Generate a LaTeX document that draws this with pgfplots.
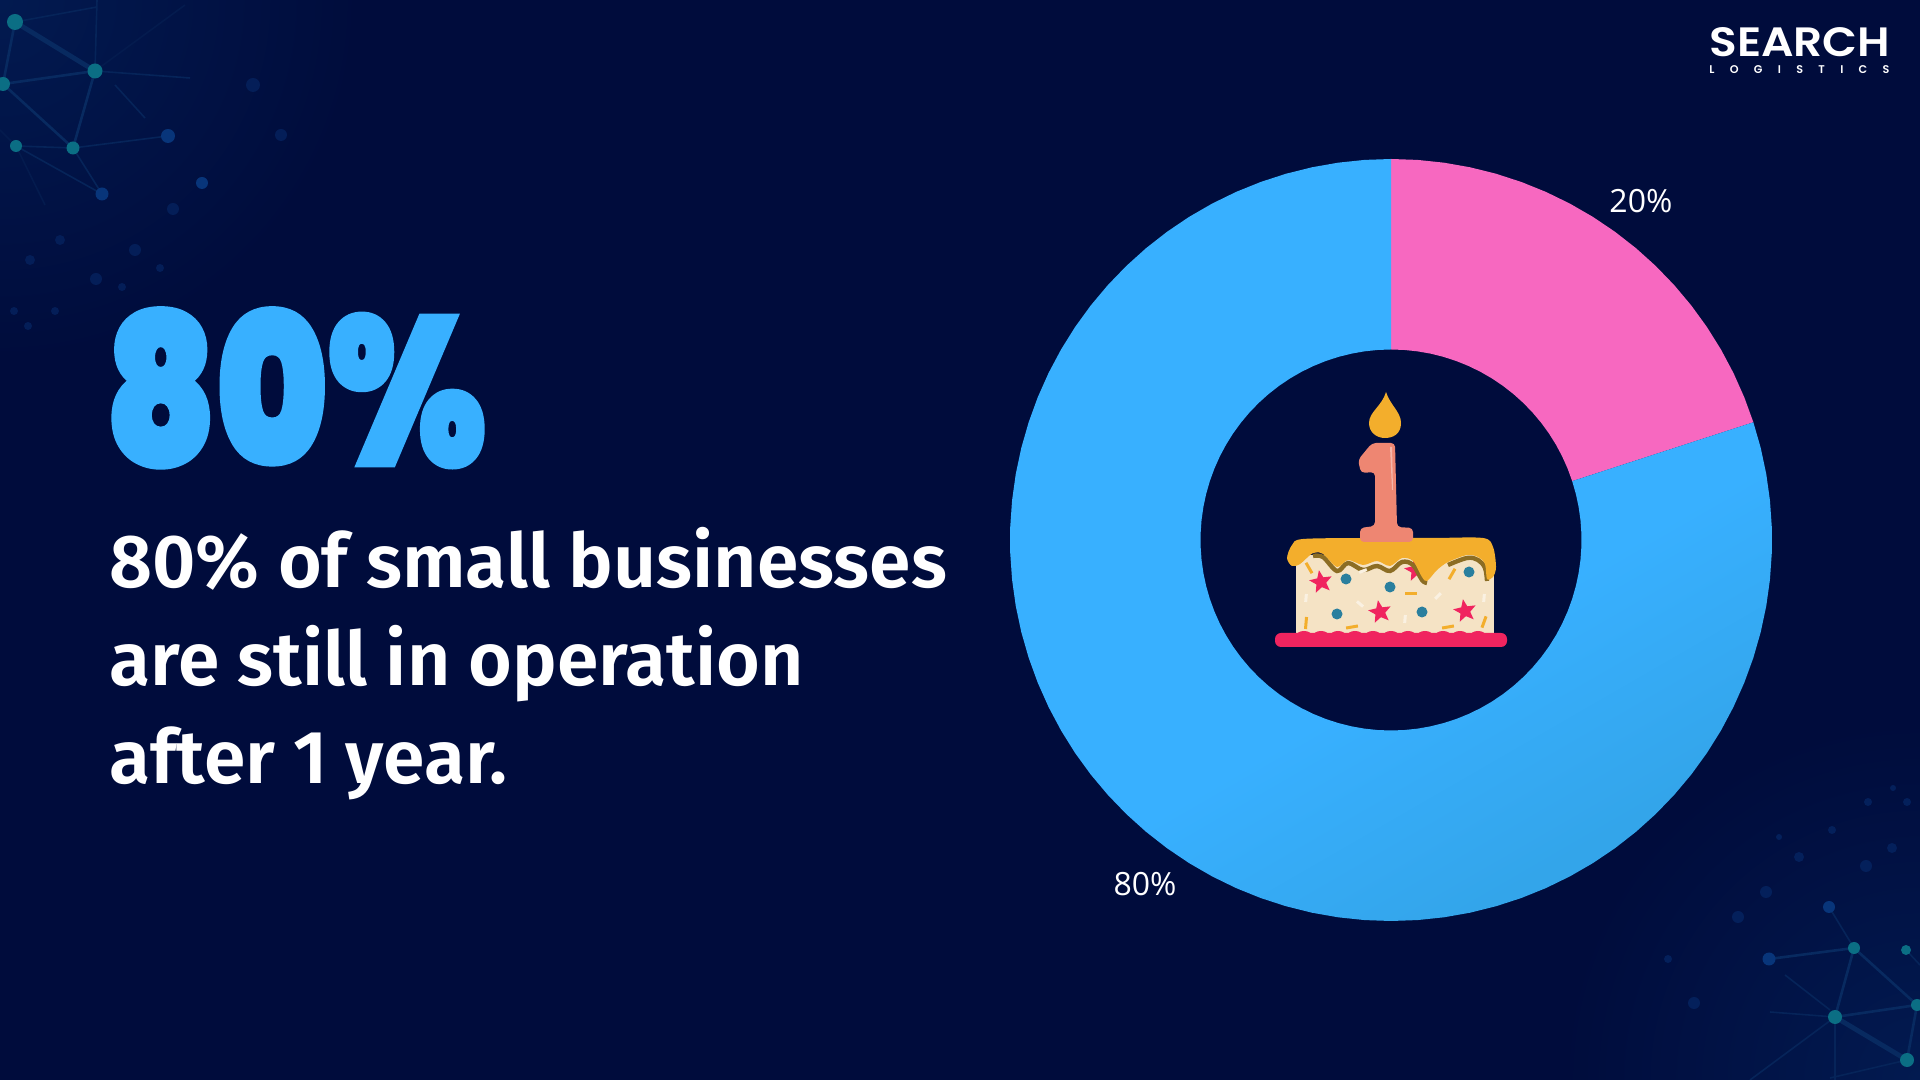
\documentclass[border=0pt]{standalone}
\usepackage{graphicx}
\usepackage{fontspec}
\usepackage{pgfplots}
\pgfplotsset{compat=1.18}
\usepgfplotslibrary{polar}
\usetikzlibrary{shapes.geometric}
\setmainfont{Open Sans}
\newfontfamily\plex{Fira Sans SemiBold}
\newfontfamily\heavy{Poppins Black}[FakeBold=2.5]
\newfontfamily\logo{Poppins SemiBold}

\definecolor{bg}{HTML}{000C3C}
\definecolor{bgglow}{HTML}{021A50}
\definecolor{donutblue}{HTML}{38B0FF}
\definecolor{donutdark}{HTML}{33A5EA}
\definecolor{donutpink}{HTML}{F768C0}
\definecolor{teal}{HTML}{0B6E84}
\definecolor{netblue}{HTML}{08357A}
\definecolor{netline}{HTML}{082A60}
\definecolor{icing}{HTML}{F3AE2C}
\definecolor{crumb}{HTML}{F5E3C5}
\definecolor{candle}{HTML}{EE8672}
\definecolor{berry}{HTML}{F0245F}
\definecolor{dotblue}{HTML}{2A7F9E}
\definecolor{choc}{HTML}{8C6D24}

\pgfdeclareverticalshading{donutshade}{100bp}{
  color(0bp)=(donutdark); color(26bp)=(donutdark); color(42bp)=(donutblue); color(100bp)=(donutblue)}

\tikzset{px/.style={x=0.5pt,y=-0.5pt,yshift=540pt}}

\begin{document}
\begin{tikzpicture}
\path[use as bounding box] (0,0) rectangle (960pt,540pt);
\clip (0,0) rectangle (960pt,540pt);

\begin{scope}[px]
\fill[bg] (0,0) rectangle (1920,1080);
\shade[inner color=bgglow,outer color=bg] (0,0) circle (360);
\shade[inner color=bgglow,outer color=bg] (1920,1080) circle (360);

% network, top left
\draw[netline,line width=2.4] (15,22) -- (95,71);
\draw[netline,line width=1.3] (15,22) -- (3,84) -- (95,71) -- (73,148) -- (3,84);
\draw[netline!80!bg,line width=.8] (16,146) -- (73,148) -- (168,136) (73,148) -- (102,194) -- (16,146)
  (95,71) -- (97,0) (15,22) -- (97,7) (95,71) -- (190,78) (115,85) -- (145,118);
\draw[netline!50!bg,line width=.8] (95,71) -- (185,5) (16,146) -- (45,205) (0,130) -- (16,146);
\foreach \x/\y/\r in {15/22/8,95/71/7.5,3/84/7,16/146/6,73/148/6.5}
  \fill[teal] (\x,\y) circle (\r);
\foreach \x/\y/\r in {168/136/7,102/194/6.5,202/183/6}
  \fill[netblue] (\x,\y) circle (\r);
\foreach \x/\y/\r in {253/85/7,281/135/6,173/209/6,60/240/5,30/260/5,135/250/6,96/279/6,14/311/4,55/311/4,28/326/4,160/268/4,122/287/4}
  \fill[netblue!45!bg] (\x,\y) circle (\r);

% network, bottom right
\draw[netline,line width=2.4] (1835,1017) -- (1907,1060);
\draw[netline,line width=1.3] (1907,1060) -- (1917,1005) -- (1835,1017) -- (1854,948) -- (1769,959)
  (1854,948) -- (1917,1005);
\draw[netline!80!bg,line width=.8] (1906,950) -- (1920,965) (1829,907) -- (1854,948) (1835,1017) -- (1835,1080)
  (1835,1017) -- (1750,1080) (1835,1017) -- (1770,1012) (1785,975) -- (1830,1010) (1907,1060) -- (1830,1078);
\foreach \x/\y/\r in {1835/1017/7,1907/1060/7,1917/1005/6,1854/948/6,1906/950/5}
  \fill[teal] (\x,\y) circle (\r);
\foreach \x/\y/\r in {1769/959/6.5,1829/907/6}
  \fill[netblue] (\x,\y) circle (\r);
\foreach \x/\y/\r in {1738/917/6,1766/892/6,1799/857/5,1866/866/6,1892/848/5,1694/1003/6,1668/959/4,1832/830/4,1779/837/3,1868/802/4,1907/802/4,1893/788/3}
  \fill[netblue!50!bg] (\x,\y) circle (\r);

% headline
\node[anchor=south west,inner sep=0pt,text=donutblue] at (105,467.5)
  {\resizebox{190.3pt}{78pt}{\heavy 80\%}};
\node[anchor=base west,inner sep=0pt,text=white] at (109,588) {\plex\fontsize{37.5}{46}\selectfont 80\% of small businesses};
\node[anchor=base west,inner sep=0pt,text=white] at (109,686) {\plex\fontsize{37.5}{46}\selectfont are still in operation};
\node[anchor=base west,inner sep=0pt,text=white] at (109,784) {\plex\fontsize{37.5}{46}\selectfont after 1 year.};

% logo
\node[anchor=south west,inner sep=0pt,text=white] at (1709,57)
  {\resizebox{90.5pt}{14.5pt}{\logo SEARCH}};
\node[anchor=south west,inner sep=0pt,text=white] at (1709,74)
  {\makebox[90pt][s]{\logo\fontsize{5.6}{6}\selectfont L\hfil O\hfil G\hfil I\hfil S\hfil T\hfil I\hfil C\hfil S}};
\end{scope}

\begin{polaraxis}[
    at={(695.5pt,270pt)},
    anchor=center,
    scale only axis,
    width=381pt,
    height=381pt,
    hide axis,
    clip=false,
    xmin=0, xmax=360,
    ymin=0, ymax=1,
]
% 20% slice, angle in degrees, radius
\addplot[fill=donutpink,draw=none] coordinates {
    (18,1) (22,1) (26,1) (30,1) (34,1) (38,1) (42,1) (46,1) (50,1) (54,1)
    (58,1) (62,1) (66,1) (70,1) (74,1) (78,1) (82,1) (86,1) (90,1)
    (90,0.5) (86,0.5) (82,0.5) (78,0.5) (74,0.5) (70,0.5) (66,0.5) (62,0.5) (58,0.5) (54,0.5)
    (50,0.5) (46,0.5) (42,0.5) (38,0.5) (34,0.5) (30,0.5) (26,0.5) (22,0.5) (18,0.5)
};
% 80% slice
\addplot[shade,shading=donutshade,shading angle=30,draw=none] coordinates {
    (90,1) (94,1) (98,1) (102,1) (106,1) (110,1) (114,1) (118,1) (122,1) (126,1)
    (130,1) (134,1) (138,1) (142,1) (146,1) (150,1) (154,1) (158,1) (162,1) (166,1)
    (170,1) (174,1) (178,1) (182,1) (186,1) (190,1) (194,1) (198,1) (202,1) (206,1)
    (210,1) (214,1) (218,1) (222,1) (226,1) (230,1) (234,1) (238,1) (242,1) (246,1)
    (250,1) (254,1) (258,1) (262,1) (266,1) (270,1) (274,1) (278,1) (282,1) (286,1)
    (290,1) (294,1) (298,1) (302,1) (306,1) (310,1) (314,1) (318,1) (322,1) (326,1)
    (330,1) (334,1) (338,1) (342,1) (346,1) (350,1) (354,1) (358,1) (362,1) (366,1)
    (370,1) (374,1) (378,1)
    (378,0.5) (374,0.5) (370,0.5) (366,0.5) (362,0.5) (358,0.5) (354,0.5) (350,0.5) (346,0.5) (342,0.5)
    (338,0.5) (334,0.5) (330,0.5) (326,0.5) (322,0.5) (318,0.5) (314,0.5) (310,0.5) (306,0.5) (302,0.5)
    (298,0.5) (294,0.5) (290,0.5) (286,0.5) (282,0.5) (278,0.5) (274,0.5) (270,0.5) (266,0.5) (262,0.5)
    (258,0.5) (254,0.5) (250,0.5) (246,0.5) (242,0.5) (238,0.5) (234,0.5) (230,0.5) (226,0.5) (222,0.5)
    (218,0.5) (214,0.5) (210,0.5) (206,0.5) (202,0.5) (198,0.5) (194,0.5) (190,0.5) (186,0.5) (182,0.5)
    (178,0.5) (174,0.5) (170,0.5) (166,0.5) (162,0.5) (158,0.5) (154,0.5) (150,0.5) (146,0.5) (142,0.5)
    (138,0.5) (134,0.5) (130,0.5) (126,0.5) (122,0.5) (118,0.5) (114,0.5) (110,0.5) (106,0.5) (102,0.5)
    (98,0.5) (94,0.5) (90,0.5)
};
\node[text=white,font=\fontsize{16}{18}\selectfont,xshift=1pt,yshift=-1.2pt] at (axis cs:54,1.107) {20\%};
\node[text=white,font=\fontsize{16}{18}\selectfont,xshift=1pt,yshift=-1.2pt] at (axis cs:234,1.107) {80\%};
\end{polaraxis}

% birthday cake
\begin{scope}[px]
\fill[icing] (1386,392) .. controls (1390,405) and (1401,412) .. (1401,423) .. controls (1401,434) and (1393,438) .. (1385,438)
  .. controls (1376,438) and (1369,432) .. (1369,423) .. controls (1369,412) and (1382,406) .. (1386,392) -- cycle;
\fill[crumb] (1296,555) rectangle (1494,637);
\foreach \x/\y in {1321/582,1416/570,1380/612,1465/611}
  \node[star,star points=5,star point ratio=2.3,fill=berry,inner sep=0pt,minimum size=12pt,rotate=10] at (\x,\y) {};
\draw[choc,line width=2.2] plot[smooth,tension=.6] coordinates {(1313,556) (1323,557) (1337,571) (1348,563) (1363,570) (1377,566) (1390,571) (1402,562) (1413,565) (1422,580) (1427,583)};
\draw[choc,line width=2.2] plot[smooth,tension=.6] coordinates {(1448,565) (1467,558) (1478,560) (1485,568) (1487,581)};
\fill[icing] plot[smooth cycle,tension=.5] coordinates {(1287,558) (1292,545) (1303,539) (1367,538) (1433,538) (1483,538) (1493,547) (1496,567) (1493,577) (1487,579) (1485,564) (1478,557) (1467,555) (1448,562) (1437,570) (1427,581) (1422,577) (1413,561) (1402,558) (1390,566) (1377,561) (1363,565) (1348,560) (1337,567) (1323,554) (1313,553) (1300,564) (1292,566)};
\fill[candle,rounded corners=2] (1372,443) -- (1395,443) -- (1397,527) -- (1413,528) -- (1413,542) -- (1360,542) -- (1360,528) -- (1375,526) -- (1375,472) -- (1361,473) -- (1358,460) -- cycle;
\fill[white!40!candle] (1390,447) -- (1392,447) -- (1393,490) -- (1392,490) -- cycle;
\fill[berry,rounded corners=3] (1275,633) rectangle (1507,647);
\foreach \x in {1304,1321,1338,1355,1373,1391,1408,1425,1443,1460,1478}
  \fill[berry] (\x,636) ellipse (8 and 5);
\foreach \x/\y in {1346/579,1390/587,1337/614,1422/612,1469/572}
  \fill[dotblue] (\x,\y) circle (5.5);
\foreach \x/\y/\a in {1363/571/20,1360/604/-40,1306/598/85,1438/596/45,1484/598/85,1405/619/85}
  \fill[white!50!crumb,rotate around={\a:(\x,\y)}] (\x-4,\y-1.5) rectangle (\x+4,\y+1.5);
\foreach \x/\y/\a in {1309/568/-60,1411/594/0,1352/627/10,1448/627/10,1306/623/85,1484/622/70,1452/574/60}
  \fill[icing,rotate around={\a:(\x,\y)}] (\x-6,\y-1.5) rectangle (\x+6,\y+1.5);
\end{scope}
\end{tikzpicture}
\end{document}
